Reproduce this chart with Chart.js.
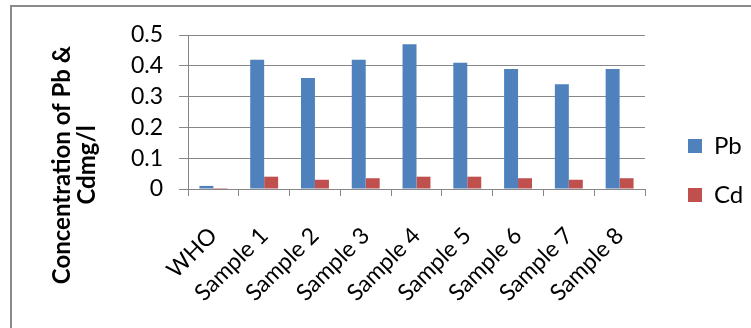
<!DOCTYPE html>
<html>
<head>
<meta charset="utf-8">
<script src="https://cdn.jsdelivr.net/npm/chart.js@4.4.0/dist/chart.umd.min.js"></script>
<style>
  html, body { margin: 0; padding: 0; background: #fff; }
  #wrap { position: relative; width: 751px; height: 328px; overflow: hidden; }
  #frame { position: absolute; left: 10px; top: 5px; width: 800px; height: 400px;
           border-left: 2px solid #8a8a8a; border-top: 2px solid #8a8a8a; }
  #chart { position: absolute; left: 0; top: 0; }
</style>
</head>
<body>
<div id="wrap">
  <div id="frame"></div>
  <canvas id="chart" width="751" height="328"></canvas>
</div>
<script>
// 데이터
const categories = ['WHO', 'Sample 1', 'Sample 2', 'Sample 3', 'Sample 4', 'Sample 5', 'Sample 6', 'Sample 7', 'Sample 8'];
const pbValues = [0.01, 0.42, 0.36, 0.42, 0.47, 0.41, 0.39, 0.34, 0.39];
const cdValues = [0.003, 0.04, 0.03, 0.035, 0.04, 0.04, 0.035, 0.03, 0.035];
const yTitleLines = ['Concentration of Pb &', 'Cdmg/l'];

const FONT = 'Lato, "Open Sans", sans-serif';
const GRID = '#868686';

// y축 제목은 두 줄, 차트 전체 높이 기준으로 가운데
const yTitlePlugin = {
  id: 'yTitle',
  afterLayout(chart) {
    // 범례를 오른쪽으로 조금 밀기
    chart.legend.left += 18;
    chart.legend.right += 18;
  },
  afterDraw(chart) {
    const ctx = chart.ctx;
    ctx.save();
    ctx.fillStyle = '#000';
    ctx.font = 'bold 24px ' + FONT;
    ctx.textAlign = 'center';
    ctx.textBaseline = 'middle';
    const xs = [62, 87];
    yTitleLines.forEach((line, i) => {
      ctx.save();
      ctx.translate(xs[i], 165);
      ctx.rotate(-Math.PI / 2);
      ctx.fillText(line, 0, 0);
      ctx.restore();
    });
    ctx.restore();
  }
};

const ctx = document.getElementById('chart').getContext('2d');
new Chart(ctx, {
  type: 'bar',
  data: {
    labels: categories,
    datasets: [
      { label: 'Pb', data: pbValues, backgroundColor: '#4F81BD', borderWidth: 0 },
      { label: 'Cd', data: cdValues, backgroundColor: '#C0504D', borderWidth: 0 }
    ]
  },
  options: {
    responsive: false,
    animation: false,
    layout: { padding: { top: 13, bottom: 0, left: 0, right: 0 } },
    datasets: { bar: { barPercentage: 1, categoryPercentage: 0.55 } },
    plugins: {
      tooltip: { enabled: false },
      legend: {
        position: 'right',
        labels: {
          boxWidth: 14, boxHeight: 14, padding: 25, color: '#000',
          font: { family: FONT, size: 24 }
        }
      }
    },
    scales: {
      x: {
        grid: { drawOnChartArea: false, drawTicks: true, tickLength: 7, color: GRID, offset: true },
        border: { color: GRID },
        ticks: {
          color: '#000', maxRotation: 45, minRotation: 45, padding: 26, autoSkip: false,
          font: { family: FONT, size: 23 }
        },
        afterFit(s) { s.height = 139; s.paddingRight = 106; }
      },
      y: {
        min: 0, max: 0.5,
        grid: { color: GRID, tickLength: 9 },
        border: { color: GRID },
        ticks: {
          stepSize: 0.1, color: '#000', padding: 16,
          font: { family: FONT, size: 23 }
        },
        afterFit(s) { s.width = 188; s.paddingTop = 35; }
      }
    }
  },
  plugins: [yTitlePlugin]
});
</script>
</body>
</html>
